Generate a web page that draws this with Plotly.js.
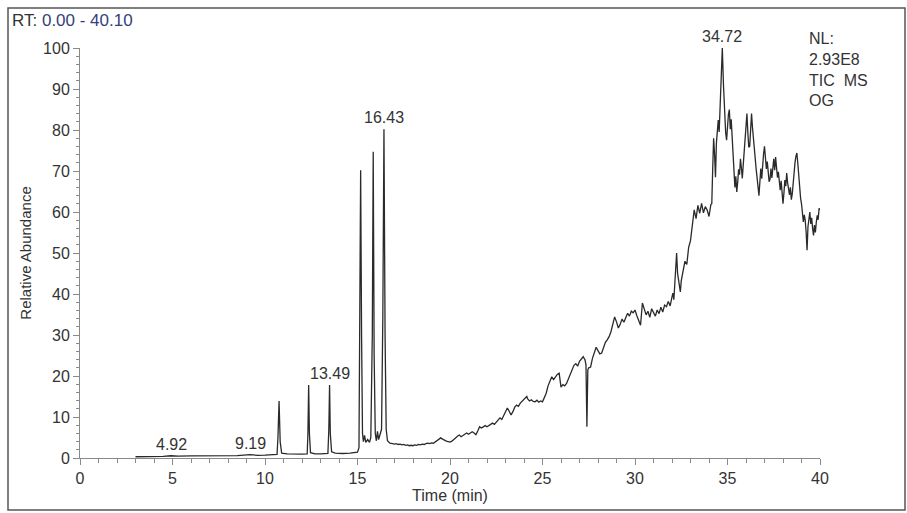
<!DOCTYPE html>
<html>
<head>
<meta charset="utf-8">
<script src="https://cdn.plot.ly/plotly-3.0.1.min.js"></script>
<style>
html,body{margin:0;padding:0;background:#fff;}
#chart{width:907px;height:513px;}
</style>
</head>
<body>
<div id="chart"></div>
<script>
// Retention time (min)
const timeMin = [
3.0,3.5,4.0,4.5,4.92,5.3,6.0,7.0,8.0,8.5,9.19,9.6,10.0,10.5,10.65,
10.70,10.76,10.82,10.9,
11.2,11.6,12.0,12.28,
12.32,12.36,12.40,12.46,
12.7,13.0,13.4,
13.45,13.49,13.53,13.6,
13.8,14.2,14.6,15.0,15.08,
15.12,15.17,15.22,15.27,15.32,15.38,15.45,15.55,15.65,15.72,
15.80,15.85,15.90,15.96,16.02,16.08,16.14,16.22,16.30,
16.37,16.43,16.49,16.55,16.62,16.75,16.9,
17.0,17.1,17.2,17.3,17.4,17.5,17.6,17.7,17.8,17.9,
18.0,18.1,18.2,18.3,18.4,18.5,18.6,18.7,18.8,18.9,
19.0,19.1,19.2,19.3,19.4,19.5,19.6,19.7,19.8,19.9,
20.0,20.1,20.2,20.3,20.4,20.5,20.6,20.7,20.8,20.9,
21.0,21.1,21.2,21.3,21.4,21.5,21.6,21.7,21.8,21.9,
22.0,22.1,22.2,22.3,22.4,22.5,22.6,22.7,22.8,22.9,
23.0,23.1,23.2,23.3,23.4,23.5,23.6,23.7,23.8,23.9,
24.0,24.1,24.15,24.2,24.3,24.4,24.5,24.6,24.7,24.8,24.9,
25.0,25.1,25.2,25.3,25.4,25.5,25.6,25.7,25.8,25.9,25.95,
26.0,26.1,26.2,26.3,26.4,26.5,26.6,26.7,26.8,26.9,
27.0,27.1,27.2,27.3,27.35,27.4,27.45,27.5,27.6,27.7,27.8,27.9,
28.0,28.1,28.2,28.3,28.4,28.5,28.6,28.7,28.8,28.9,
29.0,29.1,29.2,29.3,29.4,29.5,29.6,29.7,29.8,29.9,
30.0,30.1,30.2,30.3,30.4,30.5,30.6,30.7,30.8,30.9,
31.0,31.1,31.2,31.3,31.4,31.5,31.6,31.7,31.8,31.9,
32.0,32.05,32.1,32.15,32.2,32.25,32.3,32.35,32.4,32.45,32.5,32.6,32.7,32.8,32.9,
33.0,33.1,33.2,33.3,33.4,33.5,33.6,33.7,33.8,33.9,
34.0,34.1,34.15,34.2,34.25,34.3,34.35,34.4,34.5,34.55,34.6,34.65,34.72,34.78,34.85,34.9,34.95,
35.0,35.05,35.1,35.15,35.2,35.25,35.3,35.35,35.4,35.45,35.5,35.55,35.6,35.65,35.7,35.75,35.8,35.85,35.9,35.95,
36.0,36.05,36.1,36.15,36.2,36.25,36.3,36.35,36.4,36.45,36.5,36.55,36.6,36.65,36.7,36.75,36.8,36.85,36.9,36.95,
37.0,37.05,37.1,37.15,37.2,37.25,37.3,37.35,37.4,37.45,37.5,37.55,37.6,37.65,37.7,37.75,37.8,37.85,37.9,37.95,
38.0,38.05,38.1,38.15,38.2,38.25,38.3,38.35,38.4,38.45,38.5,38.55,38.6,38.65,38.7,38.75,38.8,38.85,38.9,38.95,
39.0,39.05,39.1,39.15,39.2,39.25,39.3,39.35,39.4,39.45,39.5,39.55,39.6,39.65,39.7,39.75,39.8,39.85,39.9,39.95,40.0
];
// Relative abundance (%)
const abundance = [
0.3,0.3,0.35,0.4,0.55,0.45,0.5,0.5,0.55,0.6,0.8,0.65,0.7,0.8,0.9,
5,13.9,4,1.2,
1.0,0.9,0.95,1.0,
6,17.8,6,1.3,
1.0,1.0,1.1,
7,17.8,6,1.5,
1.2,1.1,1.2,1.4,2.5,
30,70.2,30,6,4,5.5,3.8,4.5,3.8,5,
30,74.7,25,6,4.2,6.5,4.5,5.5,7,
35,80.2,30,7,4.2,3.6,3.5,
3.4,3.5,3.3,3.4,3.2,3.3,3.1,3.2,3.0,3.1,
3.0,3.2,3.1,3.3,3.2,3.4,3.3,3.5,3.6,3.5,
3.7,3.6,3.9,4.2,4.6,4.9,4.6,4.3,4.1,4.0,
3.9,4.1,4.4,4.9,5.3,5.6,5.2,5.5,5.9,6.1,
5.8,6.2,6.4,6.1,5.7,6.6,7.6,7.3,7.7,7.9,
7.6,7.9,8.3,8.5,8.2,8.8,9.4,9.8,9.4,10.3,
11.2,12.2,11.4,10.5,11.3,12.4,12.9,12.6,13.4,13.9,
14.4,14.7,15.0,14.4,13.9,14.2,13.8,13.7,14.1,13.6,13.9,
13.7,14.6,15.8,17.6,18.9,19.8,19.1,19.9,20.4,20.7,18.2,
17.3,17.9,17.6,18.2,19.4,20.3,21.5,22.6,23.0,22.4,
23.6,24.2,24.7,23.9,22.7,7.6,21.5,22.0,22.2,24.3,25.8,27.0,
26.2,25.4,25.6,27.1,28.2,28.8,29.6,30.8,32.4,34.4,
33.2,31.7,32.6,33.9,33.1,34.2,35.3,34.6,35.8,35.4,
36.1,34.7,33.6,32.4,37.8,36.2,34.9,35.8,34.3,36.4,
35.4,34.6,36.1,35.2,36.8,35.6,37.3,36.9,38.2,37.1,
39.3,40.2,38.6,42.5,46.3,50.0,45.1,43.0,41.8,40.5,43.2,46.1,48.0,47.2,51.4,
53.0,56.2,60.5,58.4,61.6,59.7,62.1,59.8,61.3,60.5,
58.9,61.8,62.0,70.5,78.0,74.2,68.5,76.8,82.4,79.5,86.3,92.1,100,91.2,83.5,79.4,77.5,
81.6,83.8,85.0,80.2,82.6,77.4,72.8,69.4,66.0,68.7,64.9,67.2,70.4,69.1,73.0,70.8,68.2,71.5,74.3,78.6,
81.2,84.0,79.3,75.8,76.0,81.5,84.0,80.6,77.2,74.5,73.0,70.4,68.9,66.2,64.0,67.3,70.6,68.1,71.8,74.2,
76.0,73.1,70.5,72.3,69.1,67.4,68.0,70.6,68.3,71.7,73.0,70.2,73.4,70.9,68.4,69.8,67.0,65.3,67.6,64.1,
62.0,64.6,67.8,66.3,69.5,67.1,65.8,64.2,66.0,63.0,64.4,67.5,70.2,72.1,73.6,74.4,71.9,68.7,65.2,63.4,
62.0,60.1,57.6,59.3,58.0,55.2,50.7,56.4,58.9,60.0,57.1,58.6,56.0,54.3,56.8,55.0,57.5,59.2,58.1,60.9,60.5
];
// Labelled peaks
const peakTimes = [4.92, 9.19, 13.49, 16.43, 34.72];
const peakValues = [0.55, 0.8, 17.8, 80.2, 100];
const peakTexts = ["4.92", "9.19", "13.49", "16.43", "34.72"];
// Axis ticks
const xTickVals = [0, 5, 10, 15, 20, 25, 30, 35, 40];
const yTickVals = [0, 10, 20, 30, 40, 50, 60, 70, 80, 90, 100];

const FONT = '"Liberation Sans", Arial, sans-serif';
const TXT = '#333333';

const annotations = peakTexts.map((t, i) => ({
  x: peakTimes[i], y: peakValues[i], xref: 'x', yref: 'y',
  text: t, showarrow: false, xanchor: 'center', yanchor: 'bottom', yshift: 1,
  font: {family: FONT, size: 16, color: TXT}
}));
annotations.push({
  xref: 'paper', yref: 'paper', x: (10 - 80) / 740, y: (458 - 9) / 410,
  xanchor: 'left', yanchor: 'top', showarrow: false,
  text: 'RT: <span style="color:#34427a">0.00 - 40.10</span>',
  font: {family: FONT, size: 17, color: '#333333'}
});
annotations.push({
  xref: 'paper', yref: 'paper', x: (807 - 80) / 740, y: (458 - 28) / 410,
  xanchor: 'left', yanchor: 'top', align: 'left', showarrow: false,
  text: 'NL:<br>2.93E8<br>TIC  MS<br>OG',
  font: {family: FONT, size: 16, color: TXT}
});

const trace = {
  x: timeMin, y: abundance, type: 'scatter', mode: 'lines',
  line: {color: '#2a2a2a', width: 1.3},
  hoverinfo: 'skip'
};

const layout = {
  width: 907, height: 513,
  margin: {l: 80, r: 87, t: 48, b: 55},
  paper_bgcolor: '#ffffff', plot_bgcolor: '#ffffff',
  showlegend: false,
  font: {family: FONT, size: 16, color: TXT},
  xaxis: {
    range: [0, 40], tickvals: xTickVals, ticktext: xTickVals.map(String),
    showgrid: false, zeroline: false, showline: true, linecolor: '#8a8a8a', linewidth: 1,
    ticks: 'outside', ticklen: 6, tickcolor: '#8a8a8a', tickwidth: 1,
    minor: {dtick: 1, ticks: 'outside', ticklen: 4, tickcolor: '#8a8a8a', showgrid: false},
    tickfont: {family: FONT, size: 16, color: TXT},
    title: {text: 'Time (min)', font: {family: FONT, size: 16, color: TXT}, standoff: 3}
  },
  yaxis: {
    range: [0, 100], tickvals: yTickVals, ticktext: yTickVals.map(String),
    showgrid: false, zeroline: false, showline: true, linecolor: '#8a8a8a', linewidth: 1,
    ticks: 'outside', ticklen: 6, tickcolor: '#8a8a8a', tickwidth: 1,
    minor: {dtick: 2, ticks: 'outside', ticklen: 3, tickcolor: '#8a8a8a', showgrid: false},
    tickfont: {family: FONT, size: 16, color: TXT},
    title: {text: 'Relative Abundance', font: {family: FONT, size: 15, color: TXT}, standoff: 7}
  },
  shapes: [{
    type: 'rect', xref: 'paper', yref: 'paper',
    x0: (8 - 80) / 740, x1: (905 - 80) / 740,
    y0: (458 - 510) / 410, y1: (458 - 8) / 410,
    line: {color: '#555555', width: 1.5}, fillcolor: 'rgba(0,0,0,0)'
  }],
  annotations: annotations
};

Plotly.newPlot('chart', [trace], layout, {displayModeBar: false, staticPlot: true});
</script>
</body>
</html>
